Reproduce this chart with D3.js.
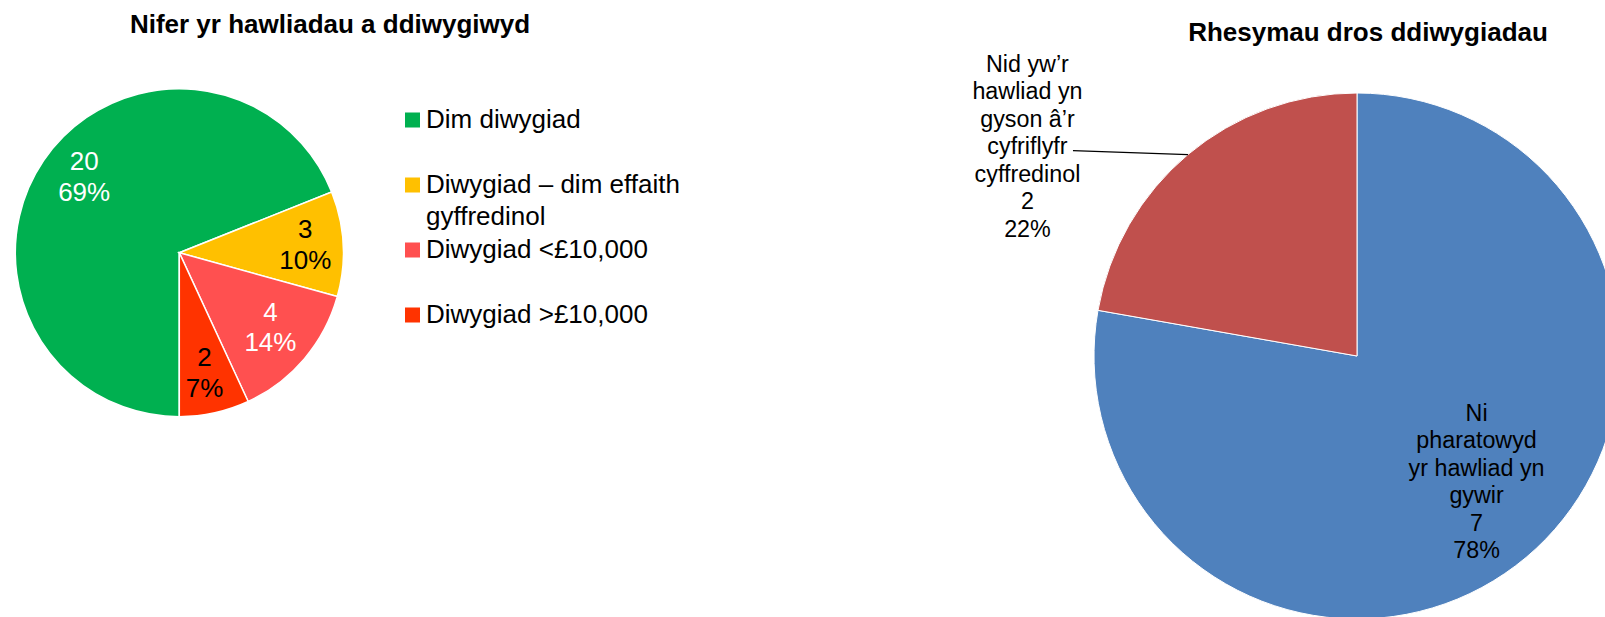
<!DOCTYPE html>
<html>
<head>
<meta charset="utf-8">
<script src="https://cdn.jsdelivr.net/npm/d3@7"></script>
<style>
    body { margin: 0; background: #fff; }
    svg { display: block; font-family: "Liberation Sans", Arial, sans-serif; }
</style>
</head>
<body>
<script>
// chart 1 - number of claims revised
var revisionNames = ["Dim diwygiad", "Diwygiad – dim effaith\ngyffredinol", "Diwygiad <£10,000", "Diwygiad >£10,000"];
var revisionCounts = [20, 3, 4, 2];
var revisionColours = ["#00B050", "#FFC000", "#FF5050", "#FF3300"];
var revisionTextColours = ["#ffffff", "#000000", "#ffffff", "#000000"];

// chart 2 - reasons for revisions
var reasonNames = ["Ni\npharatowyd\nyr hawliad yn\ngywir", "Nid yw’r\nhawliad yn\ngyson â’r\ncyfriflyfr\ncyffredinol"];
var reasonCounts = [7, 2];
var reasonColours = ["#4F81BD", "#C0504D"];

var titles = ["Nifer yr hawliadau a ddiwygiwyd", "Rhesymau dros ddiwygiadau"];

// excel "best fit" puts the labels a bit off the centroid
var revisionLabelShift = [[6, -8], [4, -2], [-2, -5], [-1, 0]];

window.onload = function() {

    var w = 1605;
    var h = 617;

    var svg = d3.select("body")
                .append("svg")
                .attr("width", w)
                .attr("height", h);

    // titles
    svg.append("text")
       .attr("x", 330)
       .attr("y", 32.5)
       .attr("text-anchor", "middle")
       .style("font-size", "26px")
       .style("font-weight", "bold")
       .text(titles[0]);

    svg.append("text")
       .attr("x", 1368)
       .attr("y", 41)
       .attr("text-anchor", "middle")
       .style("font-size", "26px")
       .style("font-weight", "bold")
       .text(titles[1]);

    revisionPie(svg);
    reasonPie(svg);
};

function percent(d, total) {
    return Math.round(d.value / total * 100) + "%";
}

function revisionPie(svg) {
    var radius = 164;
    var total = d3.sum(revisionCounts);

    var g = svg.append("g")
               .attr("transform", "translate(179.3,252.7)");

    // excel starts this one at the bottom
    var pie = d3.pie()
                .sort(null)
                .startAngle(Math.PI)
                .endAngle(3 * Math.PI);

    var slices = pie(revisionCounts);

    var arc = d3.arc().innerRadius(0).outerRadius(radius);
    var labelArc = d3.arc().innerRadius(radius * 0.745).outerRadius(radius * 0.745);

    g.selectAll("path")
     .data(slices)
     .enter()
     .append("path")
     .attr("d", arc)
     .attr("fill", function(d, i) { return revisionColours[i]; })
     .attr("stroke", "#ffffff")
     .attr("stroke-width", 1.5);

    var labels = g.selectAll(".lbl")
                  .data(slices)
                  .enter()
                  .append("text")
                  .attr("class", "lbl")
                  .attr("text-anchor", "middle")
                  .style("font-size", "26px")
                  .attr("fill", function(d, i) { return revisionTextColours[i]; });

    labels.each(function(d, i) {
        var c = labelArc.centroid(d);
        var x = c[0] + revisionLabelShift[i][0];
        var y = c[1] + revisionLabelShift[i][1];
        var t = d3.select(this);
        t.append("tspan").attr("x", x).attr("y", y - 6).text(d.value);
        t.append("tspan").attr("x", x).attr("y", y + 24.7).text(percent(d, total));
    });

    // legend
    var legend = svg.append("g");
    var rowStep = 65;

    revisionNames.forEach(function(name, i) {
        var base = 128 + i * rowStep;
        legend.append("rect")
              .attr("x", 405)
              .attr("y", base - 15.5)
              .attr("width", 15)
              .attr("height", 15)
              .attr("fill", revisionColours[i]);

        var t = legend.append("text")
                      .style("font-size", "26px")
                      .attr("fill", "#000");
        name.split("\n").forEach(function(line, j) {
            t.append("tspan").attr("x", 426).attr("y", base + j * 32).text(line);
        });
    });
}

function reasonPie(svg) {
    var radius = 263;
    var total = d3.sum(reasonCounts);
    var lineH = 27.5;

    var g = svg.append("g")
               .attr("transform", "translate(1357,356)");

    var pie = d3.pie().sort(null);
    var slices = pie(reasonCounts);

    var arc = d3.arc().innerRadius(0).outerRadius(radius);
    var inside = d3.arc().innerRadius(radius * 0.66).outerRadius(radius * 0.66);
    var edge = d3.arc().innerRadius(radius).outerRadius(radius);

    g.selectAll("path")
     .data(slices)
     .enter()
     .append("path")
     .attr("d", arc)
     .attr("fill", function(d, i) { return reasonColours[i]; })
     .attr("stroke", "#ffffff")
     .attr("stroke-width", 1);

    slices.forEach(function(d, i) {
        var lines = reasonNames[i].split("\n").concat([String(d.value), percent(d, total)]);
        var t = g.append("text")
                 .attr("text-anchor", "middle")
                 .style("font-size", "23.3px")
                 .attr("fill", "#000");
        var x, y0;

        if (i === 0) {
            // label inside the big slice
            var c = inside.centroid(d);
            x = c[0] + 8;
            y0 = c[1] - 8 - (lines.length - 1) / 2 * lineH + 8.4;
        } else {
            // label outside with a leader line
            var p = edge.centroid(d);
            var end = [p[0] - 115, p[1] - 4];
            g.append("line")
             .attr("x1", p[0]).attr("y1", p[1])
             .attr("x2", end[0]).attr("y2", end[1])
             .attr("stroke", "#000")
             .attr("stroke-width", 1.3);
            x = end[0] - 45.5;
            y0 = end[1] + 3.5 - 3 * lineH;
        }

        lines.forEach(function(line, j) {
            t.append("tspan").attr("x", x).attr("y", y0 + j * lineH).text(line);
        });
    });
}
</script>
</body>
</html>
